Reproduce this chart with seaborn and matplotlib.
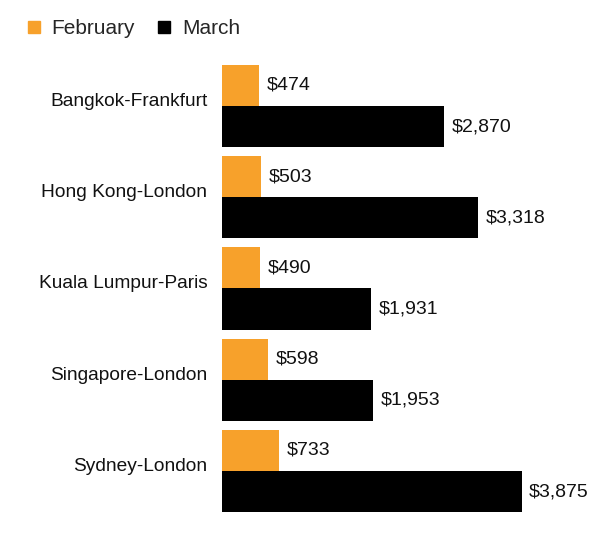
import matplotlib.pyplot as plt
from matplotlib.lines import Line2D
import seaborn as sns
import pandas as pd

# data
routes = ["Bangkok-Frankfurt", "Hong Kong-London", "Kuala Lumpur-Paris",
          "Singapore-London", "Sydney-London"]
february = [474, 503, 490, 598, 733]
march = [2870, 3318, 1931, 1953, 3875]
months = ["February", "March"]
colors = ["#F7A12B", "#000000"]

df = pd.DataFrame({
    "route": routes * 2,
    "month": ["February"] * len(routes) + ["March"] * len(routes),
    "fare": february + march,
})

sns.set_style("white")
plt.rcParams["font.family"] = ["Liberation Sans", "DejaVu Sans"]

fig = plt.figure(figsize=(6.11, 5.34), dpi=100)
ax = fig.add_axes([0.3633, 0.0326, 0.62, 0.8543])

sns.barplot(data=df, x="fare", y="route", hue="month", hue_order=months,
            palette=colors, width=0.9, orient="h", ax=ax, saturation=1,
            linewidth=0, legend=False)

for cont, vals in zip(ax.containers, [february, march]):
    ax.bar_label(cont, labels=[f"${v:,}" for v in vals], padding=5.5,
                 fontsize=14, color="#111111")

ax.set_xlim(0, 4900)
ax.set_ylim(4.5, -0.5)
ax.set_xlabel("")
ax.set_ylabel("")
ax.set_xticks([])
ax.tick_params(axis="y", length=0, labelsize=13.8, pad=10.5, labelcolor="#111111")
for lbl in ax.get_yticklabels():
    lbl.set_va("baseline")
sns.despine(ax=ax, left=True, bottom=True)

handles = [Line2D([], [], marker="s", linestyle="", markersize=9,
                  markerfacecolor=c, markeredgecolor=c) for c in colors]
fig.legend(handles, months, loc="center left", bbox_to_anchor=(0.0385, 0.9457),
           ncol=2, frameon=False, fontsize=15, handletextpad=0.35,
           columnspacing=0.9, handlelength=1.0, borderpad=0, borderaxespad=0)

plt.savefig("out.png", dpi=100)
